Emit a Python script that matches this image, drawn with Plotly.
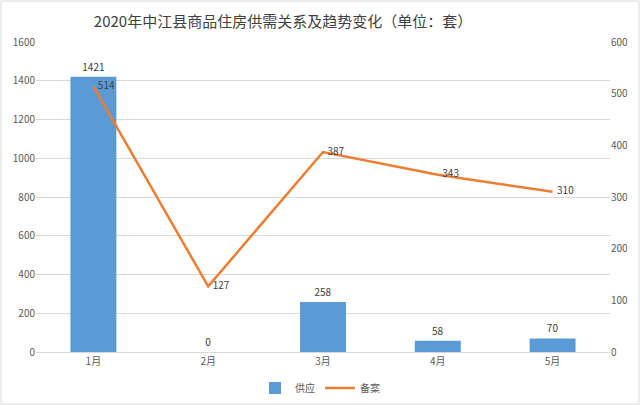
import plotly.graph_objects as go

categories = ["1月", "2月", "3月", "4月", "5月"]
supply = [1421, 0, 258, 58, 70]
filed = [514, 127, 387, 343, 310]
left_ticks = [0, 200, 400, 600, 800, 1000, 1200, 1400, 1600]
right_ticks = [0, 100, 200, 300, 400, 500, 600]
title_text = "2020年中江县商品住房供需关系及趋势变化（单位：套）"

font_family = "Noto Sans CJK SC, Noto Sans, sans-serif"

fig = go.Figure()
fig.add_trace(go.Bar(
    x=categories, y=supply, name="供应",
    marker=dict(color="#5B9BD5", line=dict(width=0)),
    text=[str(v) for v in supply], textposition="outside",
    textfont=dict(size=10, color="#404040"), cliponaxis=False,
    width=0.4,
))
fig.add_trace(go.Scatter(
    x=categories, y=filed, name="备案", yaxis="y2",
    mode="lines+text", line=dict(color="#ED7D31", width=2.5),
    text=["  " + str(v) for v in filed], textposition="middle right",
    textfont=dict(size=10, color="#404040"), cliponaxis=False,
))

fig.update_layout(
    width=640, height=405,
    margin=dict(l=36, r=30, t=42, b=53, autoexpand=False),
    paper_bgcolor="white", plot_bgcolor="white",
    font=dict(family=font_family, size=10, color="#595959"),
    title=dict(text=title_text, x=283/640, xanchor="center", y=1 - 22/405, yanchor="middle",
               xref="container", yref="container",
               font=dict(size=15, color="#404040")),
    showlegend=True,
    legend=dict(orientation="h", x=0.5, xanchor="center", y=1 - 388/405, yanchor="middle",
                yref="container", xref="container",
                font=dict(size=10, color="#595959"), traceorder="normal",
                itemwidth=30, tracegroupgap=0),
    xaxis=dict(showgrid=False, showline=True, linecolor="#D9D9D9", ticks="",
               automargin=False, tickfont=dict(size=10, color="#595959")),
    yaxis=dict(range=[0, 1600], tickvals=left_ticks, showgrid=True, gridcolor="#D9D9D9",
               automargin=False, zeroline=False, ticks="",
               tickfont=dict(size=10, color="#595959")),
    yaxis2=dict(range=[0, 600], tickvals=right_ticks, overlaying="y", side="right",
                automargin=False, showgrid=False, zeroline=False, ticks="",
                tickfont=dict(size=10, color="#595959")),
)
fig.add_shape(type="rect", xref="paper", yref="paper", x0=-35/574, x1=1 + 29/574,
              y0=-52/310, y1=1 + 41/310, line=dict(color="#D9D9D9", width=1))
fig.write_html("out.html", config={"displayModeBar": False},
               post_script="document.body.style.margin='0';document.body.style.overflow='hidden';")
